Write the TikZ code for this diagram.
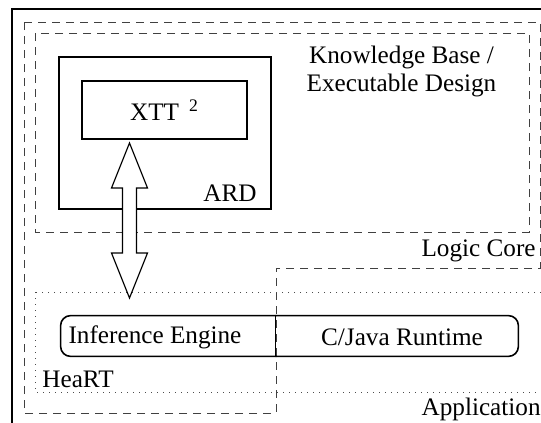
\documentclass[tikz,border=0pt]{standalone}
\usepackage{fontspec}
\setmainfont{Liberation Serif}
\usetikzlibrary{positioning,calc}
\tikzset{
  frame/.style={draw, line width=1pt},
  box/.style={rectangle, draw, line width=0.8pt, inner sep=0pt},
  region/.style={draw=black!75, line width=0.5pt, dash pattern=on 4pt off 3pt},
  layer/.style={draw=black!70, line width=0.5pt, dash pattern=on 0.5pt off 2.5pt},
  lbl/.style={font=\rmfamily\fontsize{12.6}{14}\selectfont, inner sep=0pt, align=center},
  bar/.style={line width=0.8pt, rounded corners=5pt},
  hollow/.style={draw, line width=0.6pt, fill=white},
}

\begin{document}
\begin{tikzpicture}[x=0.5pt, y=-0.5pt]
  \useasboundingbox (0,0) rectangle (541,423);

  % outer frame and regions
  \draw[frame] (12,440) -- (12,9) -- (560,9);
  \draw[region] (24,22) -- (540,22) -- (540,268) -- (276,268) -- (276,413) -- (24,413) -- cycle;
  \draw[region] (35,33) rectangle (529,232);
  \draw[layer] (35,292) rectangle (560,392);

  % knowledge base
  \node[box, minimum width=106pt, minimum height=76pt] (ard) at (165,133) {};
  \node[box, minimum width=82.5pt, minimum height=29pt, lbl] (xtt) at (164.5,110)
       {XTT\hspace{5pt}\textsuperscript{2}};
  \node[lbl, anchor=east] (ardl) at (257,193) {ARD};
  \node[lbl] (kb) at (401.5,71) {Knowledge Base /\\Executable Design};
  \node[lbl, anchor=east] (core) at (536,251) {Logic Core};

  % runtime bar
  \node[minimum width=107.5pt, minimum height=20pt, inner sep=0pt] (ie) at (168.5,336) {};
  \node[minimum width=121pt, minimum height=20pt, inner sep=0pt] (rt) at (397,336) {};
  \draw[bar] (ie.south east) -- (ie.south west) -- (ie.north west) -- (ie.north east);
  \draw[bar] (rt.north west) -- (rt.north east) -- (rt.south east) -- (rt.south west);
  \draw[line width=0.8pt] (rt.north west) -- (rt.south west);
  \node[lbl] (iel) at (155,337) {Inference Engine};
  \node[lbl] (rtl) at (402,337) {C/Java Runtime};
  \node[lbl, anchor=west] (heart) at (42,379) {HeaRT};
  \node[lbl, anchor=east] (app) at (541,409) {Application};

  % double arrow
  \coordinate (up) at (129.5,143);
  \coordinate (dn) at (129.5,298);
  \draw[hollow] (up) -- ($(up)+(18,45)$) -- ($(up)+(7,45)$) -- ($(dn)+(7,-45)$)
    -- ($(dn)+(18,-45)$) -- (dn) -- ($(dn)+(-18,-45)$) -- ($(dn)+(-7,-45)$)
    -- ($(up)+(-7,45)$) -- ($(up)+(-18,45)$) -- cycle;
\end{tikzpicture}
\end{document}
